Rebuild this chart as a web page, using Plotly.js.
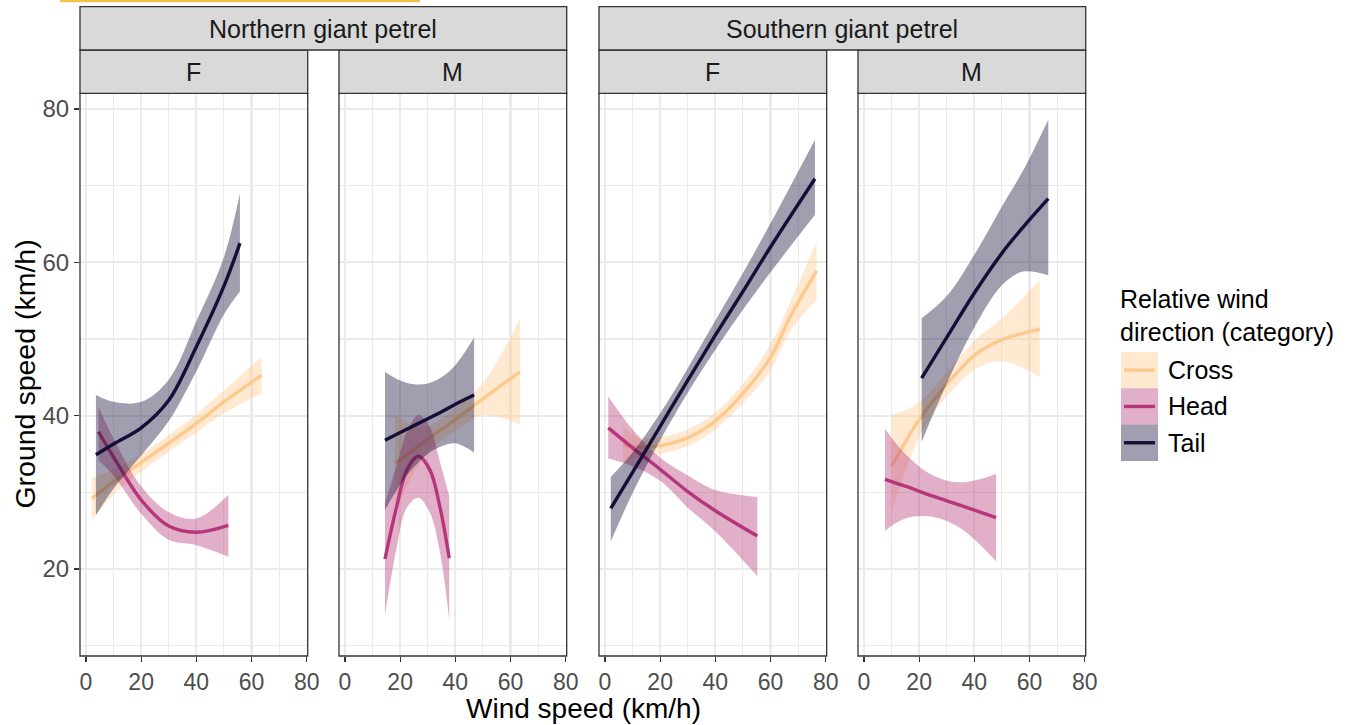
<!DOCTYPE html>
<html>
<head>
<meta charset="utf-8">
<script src="https://cdn.plot.ly/plotly-3.0.1.min.js"></script>
<style>html,body{margin:0;padding:0;background:#fff}#chart{width:1351px;height:725px}</style>
</head>
<body>
<div id="chart"></div>
<script>
// ---- categories / labels ----
const categories = ['Cross', 'Head', 'Tail'];
const species = ['Northern giant petrel', 'Southern giant petrel'];
const sexes = ['F', 'M'];
const xTicks = [0, 20, 40, 60, 80];
const yTicks = [20, 40, 60, 80];

// ---- Northern giant petrel, F ----
const nF_cross_x  = [2.1, 10, 20, 30, 40, 50, 63.7];
const nF_cross_y  = [29.2, 31.4, 33.9, 36.4, 39.0, 41.8, 45.3];
const nF_cross_lo = [26.4, 29.7, 32.7, 35.3, 37.8, 40.3, 42.9];
const nF_cross_hi = [31.8, 33.0, 35.0, 37.5, 40.2, 43.3, 47.7];
const nF_head_x   = [4.5, 10, 20, 30, 40, 51.6];
const nF_head_y   = [37.9, 34.6, 29.0, 25.6, 24.8, 25.7];
const nF_head_lo  = [34.2, 32.2, 27.2, 23.8, 23.1, 21.6];
const nF_head_hi  = [41.2, 37.0, 30.8, 27.4, 26.6, 29.7];
const nF_tail_x   = [3.6, 10, 20, 30, 40, 50, 55.8];
const nF_tail_y   = [34.9, 36.3, 38.4, 42.0, 49.0, 56.9, 62.5];
const nF_tail_lo  = [27.0, 30.5, 34.8, 39.3, 45.8, 53.2, 56.2];
const nF_tail_hi  = [42.7, 41.8, 41.8, 44.7, 52.3, 60.7, 69.0];

// ---- Northern giant petrel, M ----
const nM_cross_x  = [18.1, 25, 30, 40, 50, 63.4];
const nM_cross_y  = [33.8, 35.6, 36.9, 39.5, 42.2, 45.7];
const nM_cross_lo = [27.5, 32.5, 35.2, 38.0, 40.1, 38.8];
const nM_cross_hi = [40.1, 38.7, 38.6, 41.0, 44.3, 52.6];
const nM_head_x   = [14.5, 18.7, 22.4, 26.6, 30.8, 34.4, 37.8];
const nM_head_y   = [21.3, 28.1, 32.9, 34.7, 32.9, 28.1, 21.4];
const nM_head_lo  = [14.0, 22.7, 28.0, 29.3, 27.3, 22.2, 13.3];
const nM_head_hi  = [28.6, 33.5, 37.8, 40.1, 38.5, 34.0, 29.5];
const nM_tail_x   = [14.5, 20, 25, 30, 35, 40, 46.8];
const nM_tail_y   = [36.8, 37.8, 38.7, 39.6, 40.5, 41.5, 42.7];
const nM_tail_lo  = [27.7, 31.0, 33.3, 35.0, 36.0, 36.4, 35.2];
const nM_tail_hi  = [45.7, 44.6, 44.1, 44.2, 45.0, 46.6, 50.2];

// ---- Southern giant petrel, F ----
const sF_cross_x  = [6.6, 12, 20, 30, 40, 50, 60, 67.1, 76.7];
const sF_cross_y  = [36.2, 35.9, 36.1, 37.1, 39.3, 42.9, 47.6, 52.9, 58.9];
const sF_cross_lo = [33.8, 34.6, 35.0, 36.0, 38.2, 41.6, 45.9, 51.0, 55.1];
const sF_cross_hi = [38.6, 37.2, 37.2, 38.2, 40.4, 44.2, 49.3, 54.8, 62.7];
const sF_head_x   = [1.2, 10, 20, 30, 40, 55.2];
const sF_head_y   = [38.4, 35.8, 33.0, 30.1, 27.6, 24.3];
const sF_head_lo  = [34.4, 33.4, 31.5, 28.0, 24.9, 19.1];
const sF_head_hi  = [42.5, 38.2, 34.5, 32.2, 30.3, 29.4];
const sF_tail_x   = [2.1, 10, 20, 30, 40, 50, 60, 76.1];
const sF_tail_y   = [27.9, 32.6, 38.6, 44.6, 50.5, 56.2, 62.0, 70.9];
const sF_tail_lo  = [23.6, 29.9, 36.8, 43.0, 48.6, 53.8, 58.7, 66.2];
const sF_tail_hi  = [32.0, 35.2, 40.3, 46.2, 52.4, 58.6, 65.1, 76.0];

// ---- Southern giant petrel, M ----
const sM_cross_x  = [10, 19.1, 25.7, 31.2, 40.8, 50, 63.7];
const sM_cross_y  = [33.4, 39.0, 42.2, 44.6, 48.1, 49.9, 51.3];
const sM_cross_lo = [27.3, 36.5, 40.6, 43.0, 46.2, 47.1, 45.1];
const sM_cross_hi = [40.1, 41.5, 43.8, 46.2, 50.0, 52.7, 57.7];
const sM_head_x   = [7.6, 15, 25, 35, 47.9];
const sM_head_y   = [31.7, 30.8, 29.5, 28.3, 26.7];
const sM_head_lo  = [25.0, 26.6, 26.8, 25.3, 21.0];
const sM_head_hi  = [38.3, 35.0, 32.2, 31.3, 32.4];
const sM_tail_x   = [20.9, 30, 40, 50, 57.7, 66.8];
const sM_tail_y   = [44.9, 50.2, 56.0, 61.2, 64.6, 68.3];
const sM_tail_lo  = [36.6, 44.2, 51.5, 57.0, 58.8, 58.3];
const sM_tail_hi  = [52.7, 55.6, 61.0, 67.3, 72.0, 78.6];

// ---- build panels from the arrays ----
const panels = [
  {sp: 0, sex: 0, curves: {
    Cross: [nF_cross_x, nF_cross_y, nF_cross_lo, nF_cross_hi],
    Head:  [nF_head_x,  nF_head_y,  nF_head_lo,  nF_head_hi],
    Tail:  [nF_tail_x,  nF_tail_y,  nF_tail_lo,  nF_tail_hi]}},
  {sp: 0, sex: 1, curves: {
    Cross: [nM_cross_x, nM_cross_y, nM_cross_lo, nM_cross_hi],
    Head:  [nM_head_x,  nM_head_y,  nM_head_lo,  nM_head_hi],
    Tail:  [nM_tail_x,  nM_tail_y,  nM_tail_lo,  nM_tail_hi]}},
  {sp: 1, sex: 0, curves: {
    Cross: [sF_cross_x, sF_cross_y, sF_cross_lo, sF_cross_hi],
    Head:  [sF_head_x,  sF_head_y,  sF_head_lo,  sF_head_hi],
    Tail:  [sF_tail_x,  sF_tail_y,  sF_tail_lo,  sF_tail_hi]}},
  {sp: 1, sex: 1, curves: {
    Cross: [sM_cross_x, sM_cross_y, sM_cross_lo, sM_cross_hi],
    Head:  [sM_head_x,  sM_head_y,  sM_head_lo,  sM_head_hi],
    Tail:  [sM_tail_x,  sM_tail_y,  sM_tail_lo,  sM_tail_hi]}}
];

const lineColors = {Cross: '#fdc98c', Head: '#b5367a', Tail: '#150e37'};
const fillColors = {Cross: 'rgba(254,201,141,0.4)', Head: 'rgba(182,54,121,0.4)', Tail: 'rgba(21,14,55,0.4)'};

const W = 1351, H = 725;
const FONT = 'Liberation Sans, Arial, Helvetica, sans-serif';
const panelLeft = [80, 339, 599, 858];
const panelW = 227.7;
const plotTop = 93.3, plotBot = 656;
const px = v => v / W;
const py = v => 1 - v / H;

const traces = [];
panels.forEach((p, i) => {
  const xa = i === 0 ? 'x' : 'x' + (i + 1);
  const ya = i === 0 ? 'y' : 'y' + (i + 1);
  categories.forEach(cat => {
    const [x, y, lo, hi] = p.curves[cat];
    traces.push({x: x, y: lo, xaxis: xa, yaxis: ya, type: 'scatter', mode: 'lines',
      line: {width: 0, shape: 'spline', color: fillColors[cat]}, hoverinfo: 'skip', showlegend: false});
    traces.push({x: x, y: hi, xaxis: xa, yaxis: ya, type: 'scatter', mode: 'lines', fill: 'tonexty',
      fillcolor: fillColors[cat], line: {width: 0, shape: 'spline', color: fillColors[cat]},
      hoverinfo: 'skip', showlegend: false});
    traces.push({x: x, y: y, xaxis: xa, yaxis: ya, type: 'scatter', mode: 'lines',
      line: {width: 3.4, shape: 'spline', color: lineColors[cat]}, name: cat, showlegend: false});
  });
});

const layout = {
  width: W, height: H,
  margin: {l: 0, r: 0, t: 0, b: 0},
  paper_bgcolor: '#ffffff', plot_bgcolor: '#ffffff',
  showlegend: false,
  font: {family: FONT, color: '#1a1a1a'},
  shapes: [], annotations: []
};

panels.forEach((p, i) => {
  const sfx = i === 0 ? '' : String(i + 1);
  const L = panelLeft[i];
  layout['xaxis' + sfx] = {
    domain: [px(L), px(L + panelW)], range: [-2.17, 80.36], anchor: 'y' + sfx,
    tickmode: 'array', tickvals: xTicks, ticktext: xTicks.map(String),
    ticks: 'outside', ticklen: 5, tickwidth: 1.2, tickcolor: '#333333',
    tickfont: {family: FONT, size: 23, color: '#4d4d4d'},
    showgrid: true, gridcolor: '#ebebeb', gridwidth: 2.2,
    minor: {tickmode: 'array', tickvals: [10, 30, 50, 70], showgrid: true, gridcolor: '#ebebeb', gridwidth: 1.1, ticks: ''},
    zeroline: false, showline: false, fixedrange: true
  };
  layout['yaxis' + sfx] = {
    domain: [py(plotBot), py(plotTop)], range: [8.65, 82.05], anchor: 'x' + sfx,
    tickmode: 'array', tickvals: yTicks, ticktext: yTicks.map(String),
    ticks: i === 0 ? 'outside' : '', ticklen: 5, tickwidth: 1.2, tickcolor: '#333333',
    showticklabels: i === 0,
    tickfont: {family: FONT, size: 24, color: '#4d4d4d'},
    showgrid: true, gridcolor: '#ebebeb', gridwidth: 2.2,
    minor: {tickmode: 'array', tickvals: [10, 30, 50, 70], showgrid: true, gridcolor: '#ebebeb', gridwidth: 1.1, ticks: ''},
    zeroline: false, showline: false, fixedrange: true
  };
  // panel border
  layout.shapes.push({type: 'rect', xref: 'paper', yref: 'paper', layer: 'above',
    x0: px(L), x1: px(L + panelW), y0: py(plotBot), y1: py(plotTop),
    line: {color: '#333333', width: 1.3}, fillcolor: 'rgba(0,0,0,0)'});
  // inner strip (sex)
  layout.shapes.push({type: 'rect', xref: 'paper', yref: 'paper', layer: 'above',
    x0: px(L), x1: px(L + panelW), y0: py(plotTop), y1: py(50),
    line: {color: '#333333', width: 1.3}, fillcolor: '#d9d9d9'});
  layout.annotations.push({xref: 'paper', yref: 'paper', x: px(L + panelW / 2), y: py(72),
    text: sexes[p.sex], showarrow: false, xanchor: 'center', yanchor: 'middle',
    font: {family: FONT, size: 25, color: '#1a1a1a'}});
});

// outer strips (species)
species.forEach((s, k) => {
  const L = panelLeft[k * 2], R = panelLeft[k * 2 + 1] + panelW;
  layout.shapes.push({type: 'rect', xref: 'paper', yref: 'paper', layer: 'above',
    x0: px(L), x1: px(R), y0: py(50), y1: py(6.7),
    line: {color: '#333333', width: 1.3}, fillcolor: '#d9d9d9'});
  layout.annotations.push({xref: 'paper', yref: 'paper', x: px((L + R) / 2), y: py(29),
    text: s, showarrow: false, xanchor: 'center', yanchor: 'middle',
    font: {family: FONT, size: 25, color: '#1a1a1a'}});
});

// thin highlight bar at the very top
layout.shapes.push({type: 'rect', xref: 'paper', yref: 'paper', layer: 'above',
  x0: px(60), x1: px(420), y0: py(2.2), y1: py(0), line: {width: 0}, fillcolor: '#f0c24e'});

// axis titles
layout.annotations.push({xref: 'paper', yref: 'paper', x: px(583.5), y: py(708),
  text: 'Wind speed (km/h)', showarrow: false, xanchor: 'center', yanchor: 'middle',
  font: {family: FONT, size: 28, color: '#000000'}});
layout.annotations.push({xref: 'paper', yref: 'paper', x: px(25), y: py(374.6),
  text: 'Ground speed (km/h)', textangle: -90, showarrow: false, xanchor: 'center', yanchor: 'middle',
  font: {family: FONT, size: 28.5, color: '#000000'}});

// legend (manual, built from categories)
layout.annotations.push({xref: 'paper', yref: 'paper', x: px(1118), y: py(315),
  text: 'Relative wind<br>direction (category)', showarrow: false, xanchor: 'left', yanchor: 'middle',
  align: 'left', font: {family: FONT, size: 25, color: '#000000'}});
const keyTop = 352, keyH = 36.3, keyL = 1121, keyR = 1158;
categories.forEach((cat, j) => {
  const t = keyTop + j * keyH;
  layout.shapes.push({type: 'rect', xref: 'paper', yref: 'paper', layer: 'above',
    x0: px(keyL), x1: px(keyR), y0: py(t + keyH), y1: py(t), line: {width: 0}, fillcolor: fillColors[cat]});
  layout.shapes.push({type: 'line', xref: 'paper', yref: 'paper', layer: 'above',
    x0: px(keyL + 3), x1: px(keyR - 3), y0: py(t + keyH / 2), y1: py(t + keyH / 2),
    line: {color: lineColors[cat], width: 3.4}});
  layout.annotations.push({xref: 'paper', yref: 'paper', x: px(1166), y: py(t + keyH / 2),
    text: cat, showarrow: false, xanchor: 'left', yanchor: 'middle',
    font: {family: FONT, size: 25, color: '#000000'}});
});

Plotly.newPlot('chart', traces, layout, {staticPlot: true, displayModeBar: false});
</script>
</body>
</html>
